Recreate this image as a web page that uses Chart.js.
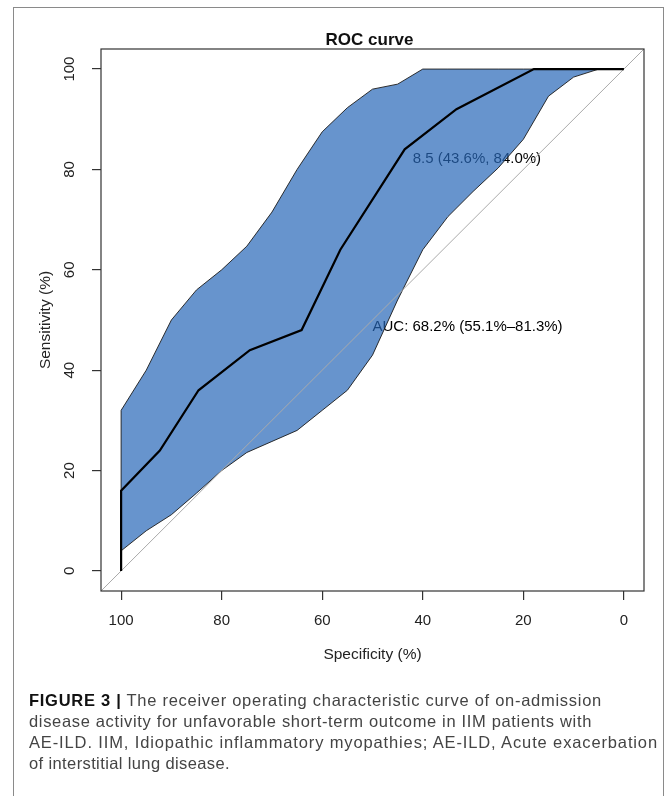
<!DOCTYPE html>
<html>
<head>
<meta charset="utf-8">
<script src="https://cdn.jsdelivr.net/npm/chart.js@4.4.1/dist/chart.umd.min.js"></script>
<style>
  html, body { margin: 0; padding: 0; background: #fff; }
  #wrap { position: relative; width: 669px; height: 796px; overflow: hidden; }
  #frame { position: absolute; left: 13px; top: 7px; width: 651px; height: 800px; border: 1.5px solid #8a8a8a; box-sizing: border-box; }
  #chart { position: absolute; left: 0; top: 0; }
  #caption { position: absolute; left: 29px; top: 690px; font-family: 'Liberation Sans', Arial, sans-serif; font-size: 16.5px; line-height: 21px; color: #444; white-space: nowrap; }
  #caption span.line { display: inline-block; }
  #caption b { color: #111; }
</style>
</head>
<body>
<div id="wrap">
  <div id="frame"></div>
  <canvas id="chart" width="669" height="796"></canvas>
  <div id="caption">
    <span class="line" data-right="602"><b>FIGURE 3 |</b> The receiver operating characteristic curve of on-admission</span><br>
    <span class="line" data-right="592">disease activity for unfavorable short-term outcome in IIM patients with</span><br>
    <span class="line" data-right="658">AE-ILD. IIM, Idiopathic inflammatory myopathies; AE-ILD, Acute exacerbation</span><br>
    <span class="line" data-right="230">of interstitial lung disease.</span>
  </div>
</div>
<script>
// =========================
// DATA
// =========================

// ROC curve (specificity %, sensitivity %)
const rocSpec = [100, 100, 92.3, 84.6, 74.4, 64.1, 56.4, 43.6, 33.3, 17.9, 0];
const rocSens = [0, 16, 24, 36, 44, 48, 64, 84, 92, 100, 100];

// confidence band of sensitivity at fixed specificities
const ciSpec  = [100, 95, 90, 85, 80, 75, 70, 65, 60, 55, 50, 45, 40, 35, 30, 25, 20, 15, 10, 5, 0];
const ciLower = [4, 8, 11.2, 15.5, 20, 23.6, 25.8, 28, 32, 36, 43, 54, 64, 70.6, 75.6, 80.3, 86, 94.6, 98.4, 100, 100];
const ciUpper = [32, 40, 50, 56, 60, 64.7, 71.5, 80, 87.5, 92.3, 96, 97, 100, 100, 100, 100, 100, 100, 100, 100, 100];

// chance line
const chanceSpec = [104, -4];
const chanceSens = [-4, 104];

const tickValues = [0, 20, 40, 60, 80, 100];

const bestThreshold = { spec: 43.6, sens: 84, label: '8.5 (43.6%, 84.0%)' };
const aucLabel = 'AUC: 68.2% (55.1%\u201381.3%)';

// =========================
// CAPTION (stretch lines to the original widths)
// =========================

document.querySelectorAll('#caption span.line').forEach(line => {
    const target = Number(line.dataset.right) - 29;
    const w = line.getBoundingClientRect().width;
    const n = line.textContent.length;
    line.style.letterSpacing = ((target - w) / n).toFixed(3) + 'px';
});

// =========================
// GRÁFICO ROC
// =========================

const rocPoints = rocSpec.map((s, i) => ({ x: s, y: rocSens[i] }));
const chancePoints = chanceSpec.map((s, i) => ({ x: s, y: chanceSens[i] }));
const bandPoints = ciSpec.map((s, i) => ({ x: s, y: ciUpper[i] }))
    .concat(ciSpec.map((s, i) => ({ x: s, y: ciLower[i] })).reverse());
bandPoints.push(bandPoints[0]);

const FONT = "'Liberation Sans', Arial, Helvetica, sans-serif";

const rocDecor = {
    id: 'rocDecor',
    beforeDatasetsDraw(chart) {
        const { ctx, scales: { x, y } } = chart;
        ctx.save();
        ctx.fillStyle = '#000';
        ctx.font = '15px ' + FONT;
        ctx.textAlign = 'left';
        ctx.textBaseline = 'middle';
        ctx.fillText(bestThreshold.label,
            x.getPixelForValue(bestThreshold.spec) + 8,
            y.getPixelForValue(bestThreshold.sens) + 9);
        ctx.fillText(aucLabel, x.getPixelForValue(50), y.getPixelForValue(50) + 7);
        ctx.restore();
    },
    afterDraw(chart) {
        const { ctx, chartArea: a, scales: { y } } = chart;
        ctx.save();
        // box
        ctx.strokeStyle = '#333';
        ctx.lineWidth = 1.2;
        ctx.strokeRect(a.left, a.top, a.right - a.left, a.bottom - a.top);
        // title
        ctx.fillStyle = '#111';
        ctx.textAlign = 'center';
        ctx.textBaseline = 'middle';
        ctx.font = 'bold 17px ' + FONT;
        ctx.fillText('ROC curve', (a.left + a.right) / 2 - 3, 40);
        // x title
        ctx.fillStyle = '#222';
        ctx.font = '15.5px ' + FONT;
        ctx.fillText('Specificity (%)', (a.left + a.right) / 2, 655);
        // y tick labels + title (rotated)
        ctx.font = '15px ' + FONT;
        tickValues.forEach(v => {
            ctx.save();
            ctx.translate(70, y.getPixelForValue(v));
            ctx.rotate(-Math.PI / 2);
            ctx.fillText(String(v), 0, 0);
            ctx.restore();
        });
        ctx.font = '15.5px ' + FONT;
        ctx.translate(46, (a.top + a.bottom) / 2);
        ctx.rotate(-Math.PI / 2);
        ctx.fillText('Sensitivity (%)', 0, 0);
        ctx.restore();
    }
};

const graficoRoc = document.getElementById('chart');

if (graficoRoc) {

    const ctxRoc = graficoRoc.getContext('2d');

    new Chart(ctxRoc, {
        type: 'scatter',
        data: {
            datasets: [
                {
                    label: 'ROC',
                    data: rocPoints,
                    showLine: true,
                    borderColor: '#000',
                    borderWidth: 2.2,
                    pointRadius: 0,
                    order: 0
                },
                {
                    label: 'Chance',
                    data: chancePoints,
                    showLine: true,
                    borderColor: '#aaaaaa',
                    borderWidth: 1,
                    pointRadius: 0,
                    order: 1
                },
                {
                    label: 'CI',
                    data: bandPoints,
                    showLine: true,
                    fill: 'shape',
                    backgroundColor: 'rgba(38, 102, 184, 0.7)',
                    borderColor: '#1a1a1a',
                    borderWidth: 0.9,
                    pointRadius: 0,
                    order: 2
                }
            ]
        },
        options: {
            responsive: false,
            animation: false,
            layout: {
                padding: { left: 0, top: 49, right: 25, bottom: 145 }
            },
            scales: {
                x: {
                    type: 'linear',
                    reverse: true,
                    min: -4,
                    max: 104,
                    afterBuildTicks: (scale) => {
                        scale.ticks = tickValues.map(v => ({ value: v }));
                    },
                    afterFit: (scale) => { scale.height = 60; },
                    grid: {
                        drawOnChartArea: false,
                        tickLength: 9,
                        color: '#333',
                        lineWidth: 1.2
                    },
                    border: { display: false },
                    ticks: {
                        padding: 12,
                        maxRotation: 0,
                        color: '#222',
                        font: { family: FONT, size: 15 }
                    }
                },
                y: {
                    type: 'linear',
                    min: -4,
                    max: 104,
                    afterBuildTicks: (scale) => {
                        scale.ticks = tickValues.map(v => ({ value: v }));
                    },
                    afterFit: (scale) => { scale.width = 101; },
                    grid: {
                        drawOnChartArea: false,
                        tickLength: 9,
                        color: '#333',
                        lineWidth: 1.2
                    },
                    border: { display: false },
                    ticks: { display: false }
                }
            },
            plugins: {
                legend: { display: false },
                tooltip: { enabled: false }
            }
        },
        plugins: [rocDecor]
    });
}
</script>
</body>
</html>
